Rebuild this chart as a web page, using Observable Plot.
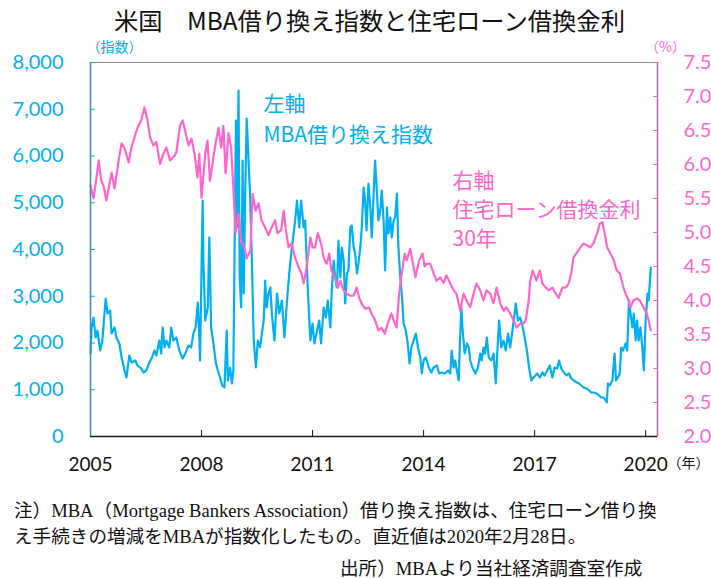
<!DOCTYPE html>
<html>
<head>
<meta charset="utf-8">
<script src="https://cdn.jsdelivr.net/npm/d3@7"></script>
<script src="https://cdn.jsdelivr.net/npm/@observablehq/plot@0.6"></script>
<style>
  html, body { margin: 0; padding: 0; background: #fff; }
  #wrap { width: 711px; height: 579px; position: relative; overflow: hidden; }
  #title { height: 40px; line-height: 40px; font-family: "Noto Sans CJK JP", sans-serif; font-size: 24.3px; color: #111; text-align: center; padding-left: 28px; box-sizing: border-box; width: 711px; white-space: pre; }
  .note { position: absolute; font-family: "Liberation Serif", "Noto Sans CJK JP", serif; font-size: 18.6px; color: #111; line-height: 26px; white-space: nowrap; }
  #notes { top: 498px; left: 14px; }
  #src { top: 559px; left: 340px; line-height: 20px; }
</style>
</head>
<body>
<div id="wrap">
  <div id="title">米国　MBA借り換え指数と住宅ローン借換金利</div>
  <div id="chart"></div>
  <div id="notes" class="note">注）MBA（Mortgage Bankers Association）借り換え指数は、住宅ローン借り換<br>え手続きの増減をMBAが指数化したもの。直近値は2020年2月28日。</div>
  <div id="src" class="note">出所）MBAより当社経済調査室作成</div>
</div>
<script>
// ---- data ----
const mbaYears = [2005.00,2005.03,2005.08,2005.14,2005.19,2005.26,2005.32,2005.41,2005.46,2005.53,2005.57,2005.65,2005.70,2005.78,2005.84,2005.92,2005.97,2006.05,2006.11,2006.21,2006.27,2006.37,2006.43,2006.51,2006.59,2006.65,2006.73,2006.78,2006.86,2006.91,2006.95,2007.00,2007.05,2007.13,2007.18,2007.24,2007.32,2007.40,2007.49,2007.56,2007.65,2007.72,2007.78,2007.84,2007.90,2007.94,2007.96,2008.03,2008.05,2008.10,2008.17,2008.21,2008.26,2008.32,2008.39,2008.44,2008.50,2008.56,2008.62,2008.68,2008.71,2008.77,2008.82,2008.86,2008.89,2008.93,2008.96,2009.00,2009.03,2009.07,2009.11,2009.14,2009.18,2009.22,2009.27,2009.31,2009.36,2009.41,2009.47,2009.52,2009.58,2009.63,2009.68,2009.72,2009.76,2009.81,2009.86,2009.90,2009.97,2010.04,2010.10,2010.17,2010.24,2010.31,2010.37,2010.44,2010.51,2010.58,2010.64,2010.69,2010.76,2010.80,2010.87,2010.94,2011.00,2011.05,2011.12,2011.18,2011.23,2011.30,2011.36,2011.41,2011.48,2011.52,2011.57,2011.61,2011.66,2011.70,2011.75,2011.79,2011.84,2011.88,2011.93,2011.97,2012.02,2012.06,2012.11,2012.15,2012.20,2012.24,2012.29,2012.33,2012.38,2012.42,2012.46,2012.51,2012.56,2012.60,2012.65,2012.69,2012.74,2012.78,2012.83,2012.87,2012.92,2012.96,2013.01,2013.05,2013.10,2013.14,2013.19,2013.23,2013.28,2013.32,2013.37,2013.41,2013.46,2013.52,2013.57,2013.62,2013.67,2013.73,2013.79,2013.85,2013.91,2013.95,2014.00,2014.06,2014.14,2014.21,2014.27,2014.36,2014.42,2014.49,2014.58,2014.66,2014.72,2014.76,2014.81,2014.85,2014.90,2014.95,2014.98,2015.02,2015.05,2015.11,2015.17,2015.22,2015.26,2015.32,2015.40,2015.47,2015.53,2015.57,2015.62,2015.66,2015.71,2015.76,2015.83,2015.89,2015.95,2015.99,2016.04,2016.10,2016.16,2016.22,2016.28,2016.34,2016.41,2016.46,2016.49,2016.55,2016.61,2016.68,2016.73,2016.79,2016.85,2016.91,2016.97,2017.07,2017.14,2017.21,2017.27,2017.34,2017.41,2017.48,2017.54,2017.61,2017.66,2017.72,2017.79,2017.86,2017.93,2017.99,2018.06,2018.14,2018.20,2018.26,2018.33,2018.40,2018.47,2018.53,2018.60,2018.67,2018.74,2018.80,2018.87,2018.95,2018.98,2019.03,2019.10,2019.16,2019.20,2019.25,2019.30,2019.34,2019.39,2019.46,2019.50,2019.55,2019.59,2019.64,2019.68,2019.73,2019.77,2019.81,2019.86,2019.91,2019.95,2020.00,2020.05,2020.08,2020.14];
const mbaValues = [1775,2330,2545,2118,2267,1840,2053,2952,2631,2695,2203,2332,2118,1989,1690,1412,1262,1733,1583,1626,1519,1455,1369,1412,1583,1668,1840,1733,2053,1775,2332,1904,2053,1904,2332,2053,2118,1840,1668,1775,1947,1904,2203,2332,2866,2118,1626,5048,3765,2481,2760,4257,2332,1990,1561,1412,1262,1091,1048,2267,1198,1476,1134,1412,3765,6759,4471,7401,3401,2760,5904,3059,5198,6802,5904,5198,3765,2053,1476,2053,1904,2203,2481,3337,2760,3059,3187,2631,2053,3059,2631,2909,2118,2909,3487,4043,4471,5048,4471,5048,4471,4620,3187,2053,2417,1990,2267,2481,1990,2760,2545,2909,2332,3123,3765,3401,3187,4193,3401,4043,3765,2845,3487,3551,4471,4513,4043,3914,3487,3701,4043,4471,5326,5048,4406,5412,4898,4257,5198,5904,5198,4620,4834,5262,4620,3551,4898,4342,4684,4257,4620,4684,5198,4043,3401,3059,2417,2267,1990,1561,1904,2053,2203,1904,1690,1348,1626,1690,1476,1369,1476,1519,1348,1369,1348,1412,1348,1840,1476,1626,1412,1198,1990,2760,2332,1775,1990,1904,1626,1476,1348,1476,1775,1626,1904,1775,2118,1690,1626,1775,1134,1775,2481,1904,2053,1840,2203,1904,2332,2631,2845,2481,2545,2332,2118,1840,1476,1198,1262,1348,1262,1369,1305,1412,1519,1262,1476,1455,1626,1455,1369,1305,1348,1241,1198,1155,1134,1091,1048,1027,984,941,941,920,877,834,834,727,1134,1091,1198,1775,1198,1262,1348,1904,1840,1990,1840,2909,2631,2332,2631,2053,2481,2053,2332,1904,1412,2481,3059,2909,3615];

const rateYears = [2005.00,2005.08,2005.14,2005.22,2005.29,2005.35,2005.43,2005.57,2005.65,2005.76,2005.84,2005.92,2006.03,2006.10,2006.19,2006.27,2006.37,2006.46,2006.54,2006.61,2006.70,2006.78,2006.88,2006.97,2007.05,2007.15,2007.27,2007.32,2007.42,2007.49,2007.57,2007.65,2007.73,2007.81,2007.89,2007.94,2008.00,2008.10,2008.16,2008.23,2008.32,2008.38,2008.46,2008.53,2008.59,2008.65,2008.73,2008.80,2008.86,2008.92,2009.00,2009.07,2009.16,2009.22,2009.32,2009.38,2009.46,2009.54,2009.62,2009.72,2009.81,2009.89,2009.99,2010.05,2010.15,2010.22,2010.27,2010.35,2010.43,2010.53,2010.62,2010.70,2010.76,2010.84,2010.94,2011.00,2011.07,2011.14,2011.23,2011.30,2011.38,2011.45,2011.51,2011.61,2011.68,2011.75,2011.84,2011.92,2012.02,2012.11,2012.19,2012.26,2012.35,2012.43,2012.53,2012.59,2012.69,2012.78,2012.86,2012.95,2013.03,2013.13,2013.19,2013.27,2013.34,2013.41,2013.49,2013.54,2013.64,2013.73,2013.78,2013.88,2013.97,2014.03,2014.08,2014.18,2014.27,2014.35,2014.45,2014.54,2014.62,2014.72,2014.81,2014.89,2014.99,2015.08,2015.16,2015.26,2015.35,2015.43,2015.53,2015.62,2015.70,2015.80,2015.89,2015.97,2016.07,2016.16,2016.24,2016.34,2016.43,2016.51,2016.61,2016.70,2016.76,2016.84,2016.88,2016.95,2017.02,2017.05,2017.14,2017.21,2017.30,2017.38,2017.48,2017.57,2017.65,2017.75,2017.84,2017.92,2017.99,2018.05,2018.15,2018.24,2018.32,2018.42,2018.51,2018.59,2018.69,2018.76,2018.83,2018.89,2018.96,2019.05,2019.14,2019.22,2019.30,2019.40,2019.46,2019.51,2019.59,2019.67,2019.76,2019.84,2019.94,2020.03,2020.08,2020.14];
const rateValues = [5.69,5.50,5.72,6.06,5.76,5.69,5.47,5.88,5.65,6.06,6.31,6.24,6.03,6.24,6.40,6.54,6.65,6.84,6.65,6.40,6.28,6.33,6.01,6.16,6.25,6.06,6.13,6.18,6.57,6.65,6.47,6.28,6.38,6.16,5.81,6.16,5.51,6.16,6.35,5.76,6.10,6.31,6.54,6.25,6.57,5.87,6.46,6.25,5.66,4.99,5.28,4.88,4.78,4.62,4.74,5.57,5.32,5.43,5.18,5.07,4.96,5.07,5.18,4.99,5.03,5.32,5.07,4.78,4.84,4.63,4.49,4.40,4.25,4.49,4.93,4.78,4.78,4.99,4.84,4.63,4.54,4.69,4.44,4.34,4.19,4.29,4.15,4.10,4.07,4.07,4.19,4.04,3.93,3.88,3.90,3.81,3.71,3.56,3.60,3.51,3.66,3.81,3.71,3.60,4.10,4.40,4.69,4.59,4.76,4.49,4.34,4.59,4.69,4.50,4.54,4.54,4.40,4.29,4.34,4.26,4.37,4.25,4.15,4.10,3.85,4.10,4.00,3.90,4.10,4.25,4.15,4.00,4.15,4.10,3.96,4.19,3.96,3.85,3.90,3.81,3.71,3.60,3.66,3.66,3.71,4.00,4.29,4.44,4.34,4.29,4.44,4.25,4.19,4.15,4.19,4.10,4.04,4.19,4.19,4.25,4.40,4.63,4.71,4.78,4.84,4.81,4.78,4.84,4.99,5.13,5.15,4.99,4.78,4.69,4.59,4.44,4.40,4.19,4.10,4.04,3.90,4.00,4.03,4.00,3.90,3.81,3.71,3.56];

const yearTicks = [2005, 2008, 2011, 2014, 2017, 2020];
const indexTicks = [0, 1000, 2000, 3000, 4000, 5000, 6000, 7000, 8000];
const rateTicks = [2.0, 2.5, 3.0, 3.5, 4.0, 4.5, 5.0, 5.5, 6.0, 6.5, 7.0, 7.5];

// ---- build ----
const xDomain = [2005, 2020.32];
const idxDomain = [0, 8000];
const rateDomain = [2.0, 7.5];
const toLeft = r => (r - rateDomain[0]) / (rateDomain[1] - rateDomain[0]) * idxDomain[1];
const toRate = v => rateDomain[0] + v / idxDomain[1] * (rateDomain[1] - rateDomain[0]);

const mba = mbaYears.map((t, i) => ({t, v: mbaValues[i]}));
const rate = rateYears.map((t, i) => ({t, r: rateValues[i]}));

const BLUE = "#00B0F0";
const PINK = "#FF66CC";
const CJK = "'Noto Sans CJK JP', sans-serif";

const chart = Plot.plot({
  width: 711,
  height: 446,
  marginLeft: 90,
  marginRight: 54,
  marginTop: 22,
  marginBottom: 50,
  style: {fontFamily: "Lato, sans-serif", background: "#fff", overflow: "visible"},
  x: {domain: xDomain},
  y: {domain: idxDomain},
  marks: [
    Plot.ruleY([idxDomain[1]], {stroke: "#8a8a8a", strokeWidth: 1.2}),
    Plot.line(mba, {x: "t", y: "v", stroke: BLUE, strokeWidth: 2.2, curve: "linear"}),
    Plot.line(rate, {x: "t", y: d => toLeft(d.r), stroke: PINK, strokeWidth: 2.2, curve: "linear"}),
    Plot.axisY({anchor: "left", ticks: indexTicks, tickFormat: d3.format(","), tickSize: -5, tickPadding: 32,
      stroke: BLUE, color: BLUE, fill: BLUE, fontSize: 20, label: null}),
    Plot.axisY({anchor: "right", ticks: rateTicks.map(toLeft), tickFormat: d => toRate(d).toFixed(1), tickSize: -5, tickPadding: 31,
      stroke: PINK, color: PINK, fill: PINK, fontSize: 20, label: null}),
    Plot.axisX({anchor: "bottom", ticks: yearTicks, tickFormat: d3.format("d"), tickSize: -6, tickPadding: 27,
      stroke: "#111", fill: "#111", fontSize: 19, label: null}),
    Plot.ruleX([xDomain[0]], {stroke: "#3a8cb8", strokeWidth: 1.5}),
    Plot.ruleX([xDomain[1]], {stroke: "#b26aab", strokeWidth: 1.5}),
    Plot.ruleY([idxDomain[0]], {stroke: "#1a1a1a", strokeWidth: 1.5}),
    // axis unit labels
    Plot.text(["（指数）"], {frameAnchor: "top-left", dx: -4, dy: -15, textAnchor: "start", lineAnchor: "middle", fill: BLUE, fontSize: 14, fontFamily: CJK}),
    Plot.text(["（%）"], {frameAnchor: "top-right", dx: 8, dy: -15, textAnchor: "middle", lineAnchor: "middle", fill: PINK, fontSize: 14, fontFamily: CJK}),
    Plot.text(["（年）"], {frameAnchor: "bottom-right", dx: 10, dy: 27, textAnchor: "start", lineAnchor: "middle", fill: "#111", fontSize: 14, fontFamily: CJK}),
    // series annotations
    Plot.text(["左軸\nMBA借り換え指数"], {frameAnchor: "top-left", dx: 173, dy: 26, textAnchor: "start", lineAnchor: "top", lineHeight: 1.48, fill: BLUE, fontSize: 21, fontFamily: CJK}),
    Plot.text(["右軸\n住宅ローン借換金利\n30年"], {frameAnchor: "top-left", dx: 362, dy: 105, textAnchor: "start", lineAnchor: "top", lineHeight: 1.38, fill: PINK, fontSize: 21, fontFamily: CJK})
  ]
});
document.getElementById("chart").appendChild(chart);
</script>
</body>
</html>
